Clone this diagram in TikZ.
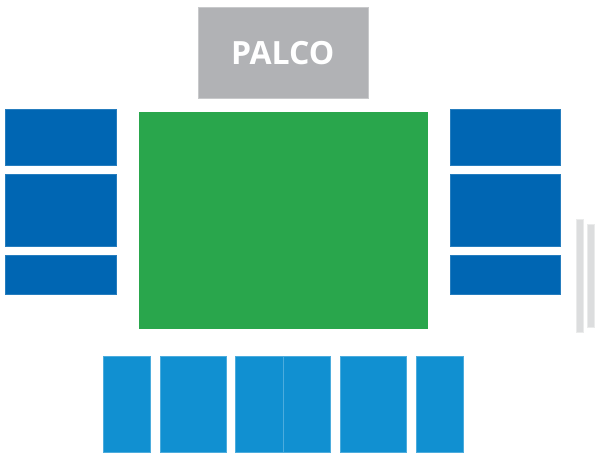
\documentclass[tikz,border=0pt]{standalone}
\usepackage{fontspec}
\setmainfont{Open Sans}
\definecolor{stagegray}{HTML}{B1B2B5}
\definecolor{fieldgreen}{HTML}{29A64C}
\definecolor{deepblue}{HTML}{0066B3}
\definecolor{skyblue}{HTML}{1190D1}
\definecolor{railgray}{HTML}{DCDDDE}
\tikzset{
  area/.style={rectangle,inner sep=0pt,outer sep=0pt,line width=0.6pt},
  stagebox/.style={area,fill=stagegray,draw=stagegray!70!white},
  fieldbox/.style={area,fill=fieldgreen,draw=fieldgreen},
  sidebox/.style={area,fill=deepblue,draw=deepblue!85!white},
  frontbox/.style={area,fill=skyblue,draw=skyblue!75!white},
  railbox/.style={area,fill=railgray,draw=railgray!60!white},
}
% name, style, x0, y0, x1, y1 in reference pixels, y downwards
\newcommand{\seatarea}[6]{%
  \node[#2,minimum width={(#5-#3)*1pt-0.6pt},minimum height={(#6-#4)*1pt-0.6pt}]
    (#1) at ({(#3+#5)/2},{-(#4+#6)/2}) {};}
\begin{document}
\begin{tikzpicture}[x=1pt,y=1pt]
\useasboundingbox (0,0) rectangle (600,-460);
\seatarea{palco}{stagebox}{198}{7}{369}{98.3}
\node[font=\bfseries\fontsize{32}{32}\selectfont,text=white,inner sep=0pt] (palcotext) at (282.7,-53) {PALCO};
\seatarea{field}{fieldbox}{139}{112}{428}{329}
\seatarea{la}{sidebox}{5}{108.5}{117}{165.5}
\seatarea{lb}{sidebox}{5}{174}{117}{247}
\seatarea{lc}{sidebox}{5}{255}{117}{295}
\seatarea{ra}{sidebox}{450}{108.5}{561}{165.5}
\seatarea{rb}{sidebox}{450}{174}{561}{247}
\seatarea{rc}{sidebox}{450}{255}{561}{295}
\seatarea{fa}{frontbox}{103}{356}{151}{452.5}
\seatarea{fb}{frontbox}{159.5}{356}{226.5}{452.5}
\seatarea{fc}{frontbox}{235}{356}{283.3}{452.5}
\seatarea{fd}{frontbox}{283.3}{356}{331}{452.5}
\seatarea{fe}{frontbox}{340}{356}{407}{452.5}
\seatarea{ff}{frontbox}{415.5}{356}{463.5}{452.5}
\seatarea{rail1}{railbox}{576}{219.3}{584}{332.7}
\seatarea{rail2}{railbox}{587}{223.7}{595}{327.7}
\end{tikzpicture}
\end{document}
